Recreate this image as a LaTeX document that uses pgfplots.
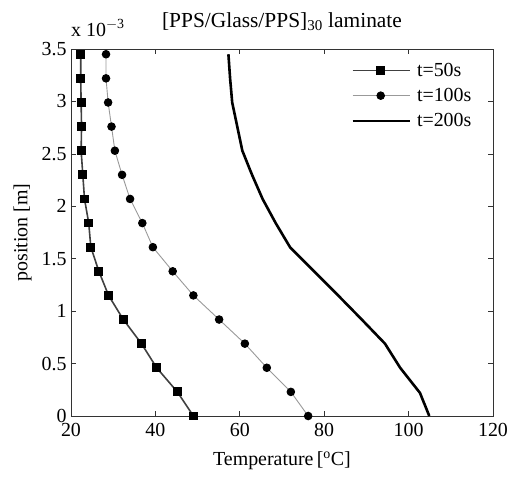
\documentclass[border=0pt]{standalone}
\usepackage{pgfplots}
\pgfplotsset{compat=1.18}
\usepackage{fontspec}
\setmainfont{Liberation Serif}
\begin{document}
\begin{tikzpicture}
\begin{axis}[
  scale only axis, width=422bp, height=367bp,
  xmin=20, xmax=120, ymin=0, ymax=3.5,
  xtick={20,40,60,80,100,120},
  ytick={0,0.5,1,1.5,2,2.5,3,3.5},
  yticklabels={0,0.5,1,1.5,2,2.5,3,3.5},
  tick align=inside, major tick length=5bp,
  axis line style={black!80, line width=0.7bp},
  every tick/.style={black!80, line width=0.7bp},
  font=\fontsize{20}{23}\selectfont,
  /pgf/number format/assume math mode=true,
  xticklabel style={yshift=-4bp},
  yticklabel style={xshift=-1bp},
  xlabel={Temperature\,[\textsuperscript{o}C]},
  xlabel style={yshift=-8bp},
  ylabel={position [m]},
  ylabel style={yshift=3bp},
  title={[PPS/Glass/PPS]\textsubscript{30} laminate},
  title style={yshift=9bp, font=\fontsize{21.5}{24}\selectfont},
  legend style={at={(0.664,0.965)}, anchor=north west, draw=none, fill=none,
    font=\fontsize{20}{23}\selectfont, row sep=8.5bp, inner sep=0pt,
    nodes={inner sep=1bp}},
  legend cell align=left,
  legend image code/.code={\draw[mark repeat=2,mark phase=2] plot coordinates {(0bp,0bp) (28bp,0bp) (57bp,0bp)};},
]
\addplot[color=black!75, line width=1.6bp, mark=square*, mark size=3.6bp, mark options={fill=black, draw=black, solid}] coordinates {
(49.0,0) (45.2,0.23) (40.3,0.46) (36.7,0.69) (32.4,0.92) (28.9,1.15) (26.6,1.38) (24.7,1.61)
(24.2,1.84) (23.2,2.07) (22.8,2.30) (22.4,2.53) (22.5,2.76) (22.4,2.99) (22.3,3.22) (22.3,3.45)};
\addlegendentry{\hspace{5bp}t=50s}
\addplot[color=black!40, line width=0.9bp, mark=*, mark size=3.8bp, mark options={fill=black, draw=black, solid}] coordinates {
(76.2,0) (72.1,0.23) (66.4,0.46) (61.2,0.69) (55.1,0.92) (49.0,1.15) (44.1,1.38) (39.4,1.61)
(36.9,1.84) (34.0,2.07) (32.1,2.30) (30.4,2.53) (29.6,2.76) (28.8,2.99) (28.3,3.22) (28.3,3.45)};
\addlegendentry{\hspace{5bp}t=100s}
\addplot[color=black, line width=2.6bp] coordinates {
(104.9,0) (102.7,0.22) (98.0,0.46) (94.4,0.69) (88.9,0.92) (83.3,1.15) (77.6,1.38) (71.9,1.61)
(68.5,1.84) (65.4,2.07) (62.9,2.30) (60.6,2.53) (59.4,2.76) (58.2,2.99) (57.7,3.22) (57.3,3.45)};
\addlegendentry{\hspace{5bp}t=200s}
\end{axis}
\node[anchor=base west, font=\fontsize{20}{23}\selectfont, inner sep=0pt] at ([yshift=13bp]current axis.north west) {x 10\textsuperscript{$-$3}};
\pgfresetboundingbox
\useasboundingbox ([xshift=-71bp,yshift=-62bp]current axis.south west) rectangle ++(508bp,478bp);
\end{tikzpicture}
\end{document}
